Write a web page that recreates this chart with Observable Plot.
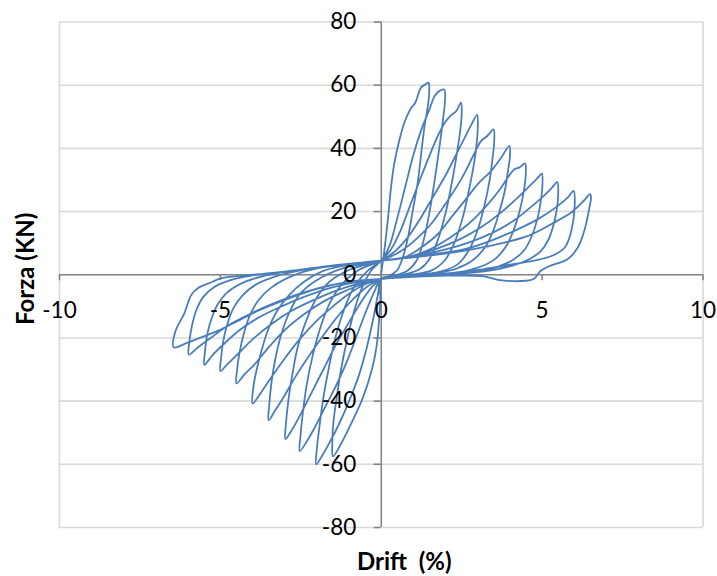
<!DOCTYPE html>
<html>
<head>
<meta charset="utf-8">
<script src="https://cdn.jsdelivr.net/npm/d3@7"></script>
<script src="https://cdn.jsdelivr.net/npm/@observablehq/plot@0.6"></script>
<style>
  html, body { margin: 0; padding: 0; background: #fff; }
  svg text { white-space: pre; }
</style>
</head>
<body>
<div id="chart"></div>
<script>
// Tick values
const xTicks = [-10, -5, 0, 5, 10];
const yTicks = [-80, -60, -40, -20, 0, 20, 40, 60, 80];
const xTitle = "Drift  (%)";
const yTitle = "Forza (KN)";

// Hysteresis cycles: drift (%) and force (kN)
const drift1 = [0, 0.1, 0.2, 0.31, 0.41, 0.57, 0.72, 0.93, 1.05, 1.24, 1.38, 1.47,
  1.49, 1.45, 1.34, 1.24, 1.14, 0.98, 0.83, 0.67, 0.5, 0.25, 0,
  -0.03, -0.08, -0.15, -0.28, -0.57, -0.99, -1.25, -1.5,
  -1.52, -1.49, -1.4, -1.25, -1.05, -0.8, -0.55, -0.3, 0];
const force1 = [0.5, 8, 17, 28.2, 35.5, 42.9, 48.2, 52.8, 54.3, 59.3, 60.3, 60.8,
  57.5, 53.5, 46.6, 38.2, 29.7, 20.3, 11.8, 5.5, 1.5, -0.4, -1.3,
  -8, -16, -23, -29.6, -38.9, -48.3, -53.5, -57.5,
  -53, -47, -40, -30, -20, -10, -3, 1.5, 4.5];

const drift2 = [0.25, 0.5, 0.75, 1.0, 1.25, 1.5, 1.66, 1.81, 1.96,
  1.98, 1.93, 1.83, 1.69, 1.52, 1.32, 1.1, 0.8, 0.4, 0,
  -0.1, -0.25, -0.45, -0.7, -1.0, -1.3, -1.6, -1.85, -2.02,
  -2.0, -1.92, -1.8, -1.62, -1.4, -1.12, -0.82, -0.45, 0];
const force2 = [9, 18, 28, 38, 46, 52.4, 56.6, 58.2, 58.6,
  55, 50, 42, 32, 21, 11, 4.5, 1.2, -0.3, -1.3,
  -6, -14, -23, -32, -40, -47, -53, -57.5, -60,
  -55, -48, -39, -29, -19, -10, -3.5, 1, 4.5];

const drift3 = [0.3, 0.6, 0.9, 1.2, 1.5, 1.76, 2.0, 2.15, 2.33, 2.48,
  2.5, 2.46, 2.36, 2.21, 2.01, 1.76, 1.5, 1.2, 0.7, 0,
  -0.2, -0.45, -0.75, -1.05, -1.4, -1.75, -2.05, -2.3, -2.53,
  -2.51, -2.44, -2.32, -2.14, -1.9, -1.6, -1.22, -0.7, 0];
const force3 = [8, 14, 22, 30, 37.7, 44, 48.5, 50.3, 51.8, 54.5,
  51, 46, 39, 30, 20, 11, 5, 1.8, 0, -1.3,
  -5, -11, -19, -27, -35, -42, -48, -52.5, -55.8,
  -51, -44, -35, -26, -17, -9, -3, 1.5, 4.5];

const drift4 = [0.4, 0.8, 1.2, 1.6, 2.0, 2.35, 2.6, 2.8, 2.98,
  3.0, 2.97, 2.88, 2.73, 2.53, 2.27, 1.97, 1.57, 0.9, 0,
  -0.3, -0.65, -1.0, -1.4, -1.8, -2.2, -2.55, -2.8, -2.98,
  -2.96, -2.89, -2.77, -2.6, -2.35, -2.02, -1.62, -1.0, 0];
const force4 = [7.2, 11.5, 17.5, 24.5, 31.5, 38.5, 43.5, 47.5, 50.6,
  47, 42, 35, 27, 18, 10, 4.5, 1.4, 0, -1.3,
  -4, -9, -15, -22, -30, -38, -45, -49.5, -52,
  -47, -40, -32, -23, -15, -7.5, -2.3, 1.5, 4.5];

const drift5 = [0.5, 1.0, 1.5, 2.0, 2.5, 2.85, 3.1, 3.3, 3.49,
  3.51, 3.46, 3.37, 3.21, 2.99, 2.71, 2.36, 1.8, 1.0, 0,
  -0.4, -0.85, -1.3, -1.75, -2.2, -2.65, -3.05, -3.3, -3.5,
  -3.48, -3.41, -3.29, -3.11, -2.86, -2.52, -2.02, -1.2, 0];
const force5 = [6.8, 10.5, 15.5, 22.5, 30.5, 37.5, 42.3, 44, 46,
  42, 37, 30, 22, 14, 7.5, 3.2, 0.9, -0.2, -1.3,
  -3.5, -7.5, -12.5, -18.5, -25, -32, -39, -43, -46,
  -41, -34, -26.5, -19, -12, -6, -1.8, 2, 4.5];

const drift6 = [0.72, 1.24, 1.76, 2.17, 2.59, 3.0, 3.42, 3.73, 3.98,
  4.0, 3.94, 3.84, 3.68, 3.48, 3.22, 2.82, 2.3, 1.5, 0,
  -0.5, -1.0, -1.5, -2.0, -2.5, -3.0, -3.45, -3.75, -4.0,
  -3.98, -3.88, -3.72, -3.52, -3.24, -2.87, -2.4, -1.8, -1.0, 0];
const force6 = [5.5, 8.6, 12.9, 18.1, 23.4, 28.7, 32.9, 37.1, 40.8,
  37.5, 33, 26.6, 20.3, 13.9, 8.6, 4.4, 1.8, 0.3, -1.3,
  -3, -6, -10, -14.5, -20, -26.5, -33, -37.5, -40.8,
  -36, -30.4, -24, -17.5, -11.5, -6.5, -2.2, 1.2, 3.2, 4.5];

const drift7 = [0.8, 1.5, 2.1, 2.7, 3.2, 3.65, 3.95, 4.14, 4.3, 4.47,
  4.49, 4.43, 4.31, 4.13, 3.89, 3.56, 3.1, 2.4, 1.3, 0,
  -0.6, -1.2, -1.8, -2.4, -3.0, -3.5, -3.95, -4.25, -4.5,
  -4.48, -4.41, -4.28, -4.09, -3.81, -3.41, -2.8, -2.0, -1.0, 0];
const force7 = [5.5, 8, 11.5, 16, 21, 26.5, 31, 33.4, 34, 35.2,
  31.5, 26.5, 20.5, 14.5, 9.2, 5.2, 2.6, 0.8, -0.1, -1.3,
  -3, -5.5, -8.5, -12.5, -17.5, -23, -28.5, -31.5, -34.4,
  -30, -25, -19, -13, -8, -4, -0.5, 2, 3.3, 4.5];

const drift8 = [1.0, 1.8, 2.5, 3.1, 3.7, 4.2, 4.6, 4.85, 4.99,
  5.01, 4.96, 4.86, 4.69, 4.46, 4.11, 3.61, 2.8, 1.5, 0,
  -0.7, -1.4, -2.1, -2.8, -3.4, -3.95, -4.45, -4.8, -5.0,
  -4.98, -4.91, -4.78, -4.59, -4.31, -3.91, -3.3, -2.4, -1.2, 0];
const force8 = [6, 8.5, 11.5, 15, 19.5, 24, 28, 30.5, 32,
  28.5, 23.5, 18, 12.5, 8, 4.8, 2.5, 0.8, -0.2, -1.3,
  -2.8, -5, -8, -11.5, -15.5, -20, -25, -28.5, -30.5,
  -26.5, -21, -15.5, -10.5, -6.5, -3.2, -0.6, 1.6, 3.2, 4.5];

const drift9 = [1.1, 2.0, 2.8, 3.5, 4.1, 4.6, 5.0, 5.3, 5.47,
  5.5, 5.46, 5.36, 5.19, 4.96, 4.61, 4.11, 3.31, 2.0, 0,
  -0.8, -1.6, -2.4, -3.1, -3.8, -4.4, -4.9, -5.25, -5.5,
  -5.48, -5.41, -5.28, -5.09, -4.81, -4.36, -3.7, -2.7, -1.4, 0];
const force9 = [6, 8, 10.5, 13.5, 17, 21, 24.5, 27.5, 29.3,
  25.5, 21, 16, 11, 7.5, 5, 3, 1.2, 0, -1.3,
  -2.4, -4.2, -7, -10, -13.5, -17.5, -22, -25.5, -28.5,
  -24.5, -19, -14, -9.5, -5.8, -2.8, -0.5, 1.3, 3, 4.5];

const drift10 = [1.2, 2.59, 3.42, 4.14, 4.87, 5.49, 5.8, 5.98,
  6.01, 5.91, 5.71, 5.31, 4.71, 4.0, 3.2, 2.2, 1.0, 0,
  -0.9, -1.8, -2.6, -3.4, -4.1, -4.75, -5.3, -5.7, -5.98,
  -5.96, -5.88, -5.74, -5.53, -5.21, -4.71, -4.0, -3.0, -1.6, 0];
const force10 = [6, 8.1, 10.8, 13.9, 17.6, 21.8, 24.5, 26.5,
  21.5, 14, 8.7, 6, 4.4, 3.2, 1.8, 0.5, -0.5, -1.3,
  -2.2, -3.8, -6.2, -9.3, -12.5, -16, -20, -23, -25.3,
  -21, -16, -11, -7, -4, -1.8, -0.2, 1, 2.8, 4.5];

const drift11 = [1.0, 2.27, 3.1, 3.83, 4.56, 5.28, 5.9, 6.3, 6.49,
  6.52, 6.47, 6.31, 6.11, 5.8, 5.2, 4.95, 4.76, 4.5, 3.63, 3.2, 2.0, 0,
  -1.0, -2.0, -3.21, -3.83, -4.45, -5.07, -5.59, -6.0, -6.45,
  -6.4, -6.12, -5.9, -5.68, -5.26, -4.97, -4.0, -3.0, -2.0, -1.0, 0];
const force11 = [5.5, 7.1, 8.6, 10.2, 12.3, 16, 19.7, 23.5, 25.5,
  24.5, 21.3, 13.9, 8.6, 5, 2.6, 1.2, -1.2, -1.9, -1.6, -0.5, -0.3, -1.3,
  -2.2, -4.5, -8.8, -11.4, -14.6, -17.7, -19.8, -21.4, -23,
  -18, -12.2, -6.3, -4.1, -2.3, -1.1, 0, 1, 2.2, 3.3, 4.5];

const driftCycles = [drift1, drift2, drift3, drift4, drift5, drift6, drift7, drift8, drift9, drift10, drift11];
const forceCycles = [force1, force2, force3, force4, force5, force6, force7, force8, force9, force10, force11];

const rows = [];
driftCycles.forEach((dc, k) => {
  const fc = forceCycles[k];
  dc.forEach((d, i) => rows.push({drift: d, force: fc[i]}));
});

const axisGray = "#868686";
const gridGray = "#d9d9d9";

const chart = Plot.plot({
  width: 717,
  height: 576,
  marginTop: 21.5,
  marginBottom: 49,
  marginLeft: 59,
  marginRight: 14.5,
  x: {domain: [xTicks[0], xTicks[xTicks.length - 1]], axis: null},
  y: {domain: [yTicks[0], yTicks[yTicks.length - 1]], axis: null},
  style: {fontFamily: "Lato, 'Open Sans', sans-serif", fontSize: "22.5px", color: "#000", background: "#fff", overflow: "visible"},
  marks: [
    Plot.ruleY(yTicks, {stroke: gridGray, strokeWidth: 1.6}),
    Plot.ruleX([xTicks[0], xTicks[xTicks.length - 1]], {stroke: gridGray, strokeWidth: 1.6}),
    Plot.ruleY([0], {stroke: axisGray, strokeWidth: 1.6}),
    Plot.ruleX([0], {stroke: axisGray, strokeWidth: 1.6}),
    Plot.ruleX(xTicks, {y1: 0, y2: -1.9, stroke: axisGray, strokeWidth: 1.6}),
    Plot.ruleY(yTicks, {x1: 0, x2: -0.22, stroke: axisGray, strokeWidth: 1.6}),
    Plot.line(rows, {x: "drift", y: "force", stroke: "#4a7ebb", strokeWidth: 1.8, curve: "catmull-rom"}),
    Plot.text(yTicks, {x: 0, y: d => d, text: d => String(d), textAnchor: "end", dx: -25, fill: "#000"}),
    Plot.text(xTicks, {x: d => d, y: 0, text: d => String(d), dy: 36, fill: "#000"}),
    Plot.text([xTitle], {frameAnchor: "bottom", text: d => d, textAnchor: "middle", lineAnchor: "middle", dx: 23, dy: 35, fontWeight: "bold", fontSize: 24, fill: "#000"}),
    Plot.text([yTitle], {frameAnchor: "left", text: d => d, textAnchor: "middle", lineAnchor: "middle", rotate: -90, dx: -33, dy: -6, fontWeight: "bold", fontSize: 24, fill: "#000"})
  ]
});
document.getElementById("chart").appendChild(chart);
</script>
</body>
</html>
